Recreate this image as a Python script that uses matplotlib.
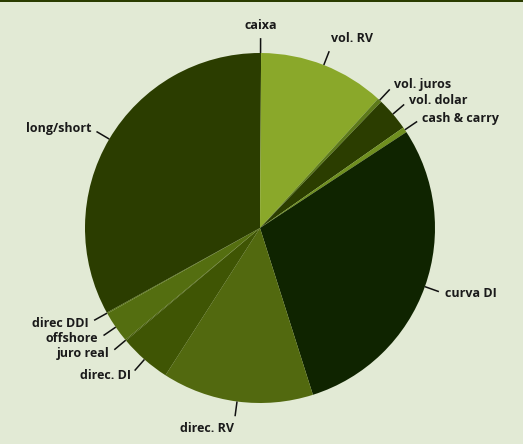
import numpy as np
import matplotlib.pyplot as plt
from matplotlib.patches import Rectangle

# Portfolio split, clockwise from 12 o'clock
labels = ['caixa', 'vol. RV', 'vol. juros', 'vol. dolar', 'cash & carry',
          'curva DI', 'direc. RV', 'direc. DI', 'juro real', 'offshore',
          'direc DDI', 'long/short']
shares = [0.1, 11.7, 0.4, 3.1, 0.5, 29.4, 14.0, 4.8, 0.1, 2.9, 0.1, 33.1]
colors = ['#2b3d00', '#8aa82a', '#5d7a1a', '#2b3d00', '#6f8f1f', '#0f2400',
          '#52690f', '#3f5504', '#3f5504', '#546e10', '#546e10', '#2b3d00']

bg = '#e2ead5'
W, H = 523, 444
cx, cy, R = 260, 228, 175  # pie centre / radius in pixels

fig = plt.figure(figsize=(W / 100, H / 100), dpi=100, facecolor=bg)
ax = fig.add_axes([0, 0, 1, 1])
ax.set_facecolor(bg)

wedges, _ = ax.pie(shares, colors=colors, startangle=90, counterclock=False,
                   wedgeprops=dict(linewidth=0))

ax.set_xlim(-cx / R, (W - cx) / R)
ax.set_ylim(-(H - cy) / R, cy / R)
ax.set_aspect('equal')
ax.axis('off')

# leader lines + labels
for w, lab in zip(wedges, labels):
    ang = np.deg2rad((w.theta1 + w.theta2) / 2)
    x, y = np.cos(ang), np.sin(ang)
    ax.plot([x * 1.0, x * 1.085], [y * 1.0, y * 1.085], color='#111111', lw=1.1,
            solid_capstyle='butt')
    if x > 0.05:
        ha = 'left'
    elif x < -0.05:
        ha = 'right'
    else:
        ha = 'center'
    if y > 0.9:
        va = 'bottom'
    elif y < -0.9:
        va = 'top'
    else:
        va = 'center'
    ax.text(x * 1.12, y * 1.12, lab, ha=ha, va=va, fontsize=9,
            fontweight='bold', family='Open Sans', color='#1a1a1a')

# dark rule along the top edge
fig.patches.append(Rectangle((0, 1 - 2.5 / H), 1, 2.5 / H, transform=fig.transFigure,
                             facecolor='#2b3d00', edgecolor='none'))

fig.savefig('out.png', dpi=100, facecolor=bg)
